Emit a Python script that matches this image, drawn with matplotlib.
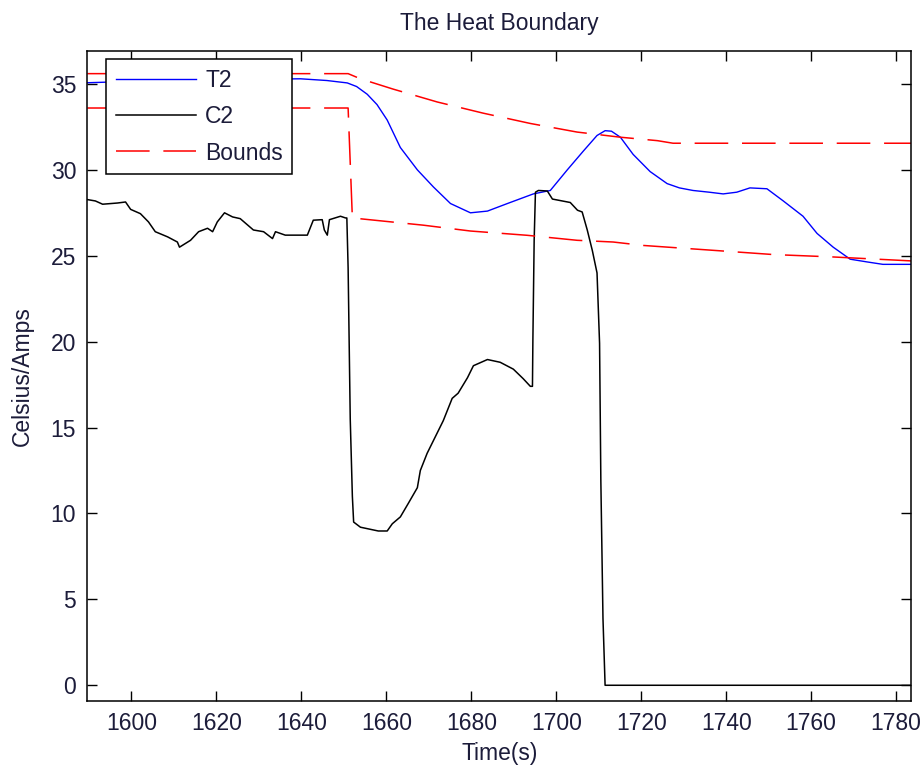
import matplotlib
matplotlib.use("Agg")
import matplotlib.pyplot as plt
import numpy as np

plt.rcParams['font.family'] = ['Liberation Sans Narrow', 'Liberation Sans', 'DejaVu Sans']

# T2 temperature trace
t2_time = [1589.6, 1600, 1620, 1639.8, 1646, 1650.8, 1653.0, 1655.5, 1657.8, 1660.2, 1663.3,
           1667.3, 1671.1, 1675.1, 1679.8, 1683.8, 1688.5, 1694.6, 1698.6, 1702.6, 1706.4,
           1709.6, 1711.5, 1713.0, 1714.2, 1715.1, 1718.1, 1722.1, 1726.1, 1729.0, 1732.2,
           1736.0, 1739.3, 1742.5, 1745.6, 1749.6, 1753.4, 1758.1, 1761.4, 1765.2, 1769.2,
           1773.2, 1776.9, 1783.6]
t2_vals = [35.07, 35.15, 35.25, 35.3, 35.2, 35.06, 34.85, 34.4, 33.8, 32.9, 31.3,
           30.0, 29.0, 28.04, 27.5, 27.6, 28.04, 28.6, 28.8, 30.0, 31.1,
           32.0, 32.28, 32.25, 32.05, 31.9, 30.9, 29.9, 29.2, 28.95, 28.8,
           28.7, 28.6, 28.7, 28.95, 28.9, 28.2, 27.3, 26.3, 25.5, 24.8,
           24.64, 24.5, 24.5]

# C2 current trace
c2_time = [1589.6, 1591.5, 1593.2, 1596.7, 1598.6, 1599.8, 1602.1, 1604.0, 1605.6, 1608.5,
           1610.8, 1611.3, 1613.9, 1615.8, 1617.9, 1619.1, 1620.2, 1621.9, 1623.8, 1625.6,
           1628.7, 1631.1, 1633.2, 1633.9, 1636.2, 1641.4, 1642.8, 1644.9, 1645.4, 1646.1,
           1646.6, 1649.2, 1650.4, 1650.7, 1651.0, 1651.5, 1652.0, 1652.3,
           1653.9, 1658.1, 1660.2, 1661.4, 1663.3, 1665.2, 1667.3, 1668.0, 1669.6, 1671.5,
           1673.4, 1675.5, 1676.9, 1679.1, 1680.5, 1683.8, 1686.8, 1689.9, 1692.2, 1693.9,
           1694.4, 1694.5, 1694.8, 1695.1, 1695.8, 1697.9, 1699.1, 1703.3, 1705.0, 1706.1,
           1707.3, 1708.5, 1709.6, 1710.2, 1710.5, 1711.0, 1711.5, 1783.6]
c2_vals = [28.27, 28.19, 28.0, 28.07, 28.13, 27.7, 27.45, 26.97, 26.4, 26.1,
           25.8, 25.5, 25.9, 26.4, 26.6, 26.4, 26.97, 27.5, 27.26, 27.16,
           26.5, 26.4, 26.0, 26.4, 26.2, 26.2, 27.07, 27.1, 26.5, 26.2,
           27.1, 27.3, 27.2, 27.2, 24.3, 15.5, 11.0, 9.5,
           9.2, 8.98, 8.98, 9.4, 9.8, 10.6, 11.5, 12.5, 13.5, 14.45,
           15.4, 16.7, 17.0, 17.9, 18.6, 18.96, 18.8, 18.4, 17.85, 17.4,
           17.4, 20.1, 25.9, 28.7, 28.8, 28.77, 28.3, 28.1, 27.65, 27.55,
           26.5, 25.3, 24.0, 19.9, 11.9, 3.9, 0.0, 0.0]

# upper and lower bounds
upper_time = [1589.6, 1651.0, 1653.9, 1661.6, 1672.0, 1682.8, 1693.9, 1704.9, 1715.1,
              1723.8, 1727.5, 1783.6]
upper_vals = [35.6, 35.6, 35.3, 34.7, 33.95, 33.3, 32.7, 32.2, 31.9,
              31.7, 31.55, 31.55]
lower_time = [1589.6, 1651.0, 1652.0, 1668.7, 1679.8, 1693.2, 1704.9, 1713.4, 1720.5,
              1737.9, 1751.1, 1765.2, 1783.6]
lower_vals = [33.6, 33.6, 27.2, 26.78, 26.44, 26.19, 25.9, 25.8, 25.6,
              25.3, 25.07, 24.93, 24.7]

txt = '#1c1c3a'
fs = 16.5

fig = plt.figure(figsize=(9.24, 7.67), dpi=100)
ax = fig.add_axes([0.0945, 0.0864, 0.8918, 0.8467])

ax.plot(t2_time, t2_vals, color='#0000ff', lw=1.0, label='T2')
ax.plot(c2_time, c2_vals, color='black', lw=1.1, label='C2')
ax.plot(upper_time, upper_vals, color='#ff0000', lw=1.1, dashes=(22, 9), label='Bounds')
ax.plot(lower_time, lower_vals, color='#ff0000', lw=1.1, dashes=(22, 9))

ax.set_xlim(1589.6, 1783.6)
ax.set_ylim(-0.9, 36.9)
ax.set_xticks(np.arange(1600, 1781, 20))
ax.set_yticks(np.arange(0, 36, 5))
ax.tick_params(direction='in', length=7, width=1, top=True, right=True,
               labelsize=fs, labelcolor=txt, pad=8)
for s in ax.spines.values():
    s.set_linewidth(1.1)

ax.set_title('The Heat Boundary', fontsize=fs, color=txt, pad=15)
ax.set_xlabel('Time(s)', fontsize=fs, color=txt, labelpad=5)
ax.set_ylabel('Celsius/Amps', fontsize=fs, color=txt, labelpad=12)

leg = ax.legend(loc='upper left', bbox_to_anchor=(0.0227, 0.9877), borderaxespad=0,
                fontsize=fs, fancybox=False, framealpha=1, edgecolor='black',
                handlelength=3.5, handletextpad=0.4, labelspacing=0.58, borderpad=0.42)
leg.get_frame().set_linewidth(1.1)
for t in leg.get_texts():
    t.set_color(txt)

fig.savefig('out.png', dpi=100)
